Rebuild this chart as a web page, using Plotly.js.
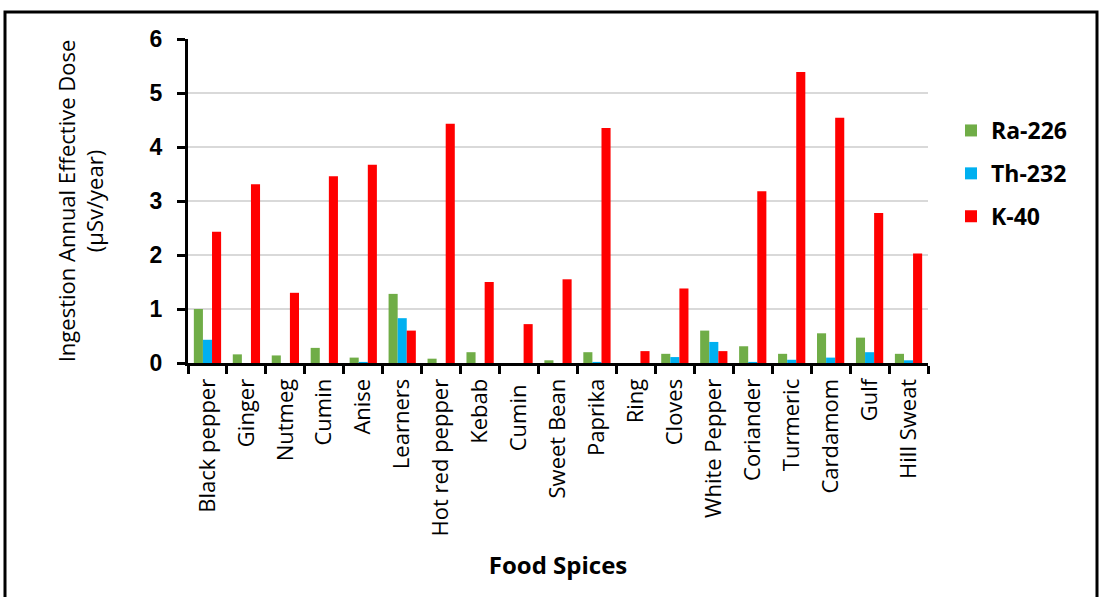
<!DOCTYPE html>
<html>
<head>
<meta charset="utf-8">
<script src="https://cdn.plot.ly/plotly-3.0.1.min.js"></script>
<style>
  html, body { margin: 0; padding: 0; background: #fff; }
  #chart { width: 1101px; height: 597px; }
</style>
</head>
<body>
<div id="chart"></div>
<script>
// Food spice categories
const spices = ["Black pepper", "Ginger", "Nutmeg", "Cumin", "Anise", "Learners",
  "Hot red pepper", "Kebab", "Cumin ", "Sweet Bean", "Paprika", "Ring", "Cloves",
  "White Pepper", "Coriander", "Turmeric", "Cardamom", "Gulf", "Hill Sweat"];

// Ingestion annual effective dose (µSv/year) per radionuclide
const ra226 = [1.00, 0.16, 0.14, 0.28, 0.10, 1.28, 0.08, 0.20, 0.00, 0.05, 0.20, 0.00, 0.17,
  0.60, 0.31, 0.17, 0.55, 0.47, 0.17];
const th232 = [0.43, 0.00, 0.00, 0.00, 0.02, 0.83, 0.00, 0.00, 0.00, 0.00, 0.02, 0.00, 0.11,
  0.39, 0.02, 0.06, 0.10, 0.20, 0.05];
const k40 = [2.43, 3.31, 1.30, 3.46, 3.67, 0.60, 4.43, 1.50, 0.72, 1.55, 4.35, 0.22, 1.38,
  0.22, 3.18, 5.39, 4.54, 2.78, 2.03];

const yTicks = [0, 1, 2, 3, 4, 5, 6];

const seriesNames = ["Ra-226", "Th-232", "K-40"];
const seriesColors = ["#70AD47", "#00B0F0", "#FF0000"];
const seriesValues = [ra226, th232, k40];

const traces = seriesValues.map((vals, i) => ({
  type: "bar",
  name: seriesNames[i],
  legendgroup: seriesNames[i],
  x: spices,
  y: vals,
  marker: { color: seriesColors[i], line: { width: 0 } },
  hoverinfo: "x+y+name"
}));

// plot area in pixels: x 188..928, y 39..363
const L = 188, R = 1101 - 928, T = 39, B = 597 - 363;
const pw = 1101 - L - R, ph = 597 - T - B;
const px = v => (v - L) / pw;
const py = v => (597 - B - v) / ph;

const FONT = "Open Sans, DejaVu Sans, sans-serif";

const layout = {
  width: 1101,
  height: 597,
  margin: { l: L, r: R, t: T, b: B, pad: 0 },
  paper_bgcolor: "#ffffff",
  plot_bgcolor: "#ffffff",
  barmode: "group",
  bargap: 0.3,
  bargroupgap: 0,
  showlegend: true,
  legend: {
    x: px(951), y: py(109), xanchor: "left", yanchor: "top",
    font: { family: FONT, size: 23, color: "#000", weight: "bold" },
    tracegroupgap: 10,
    itemwidth: 30,
    bgcolor: "rgba(0,0,0,0)"
  },
  xaxis: {
    type: "category",
    categoryorder: "array",
    categoryarray: spices,
    tickson: "boundaries",
    ticks: "outside",
    ticklen: 8,
    tickwidth: 3,
    tickcolor: "#000",
    tickangle: -90,
    ticklabelstandoff: 4,
    tickfont: { family: FONT, size: 22, color: "#000" },
    showline: true,
    linecolor: "#000",
    linewidth: 3,
    showgrid: false,
    automargin: false,
    title: {
      text: "Food Spices",
      font: { family: FONT, size: 24, color: "#000", weight: "bold" },
      standoff: 22
    }
  },
  yaxis: {
    range: [0, 6],
    tickvals: yTicks,
    ticktext: yTicks.map(String),
    ticks: "outside",
    ticklen: 8,
    tickwidth: 3,
    tickcolor: "#000",
    ticklabelstandoff: 10,
    tickfont: { family: "Liberation Sans, Arial, sans-serif", size: 23, color: "#000", weight: "bold" },
    showline: true,
    linecolor: "#000",
    linewidth: 3,
    showgrid: true,
    gridcolor: "#d9d9d9",
    gridwidth: 2,
    zeroline: false,
    automargin: false,
    title: {
      text: "Ingestion Annual Effective Dose<br>(µSv/year)",
      font: { family: FONT, size: 22, color: "#000" },
      standoff: 40
    }
  },
  shapes: [{
    type: "rect",
    xref: "paper", yref: "paper",
    x0: px(5), x1: px(1097), y0: py(640), y1: py(12),
    line: { color: "#000", width: 3 },
    fillcolor: "rgba(0,0,0,0)",
    layer: "below"
  }]
};

Plotly.newPlot("chart", traces, layout, { staticPlot: true, displayModeBar: false });
</script>
</body>
</html>
